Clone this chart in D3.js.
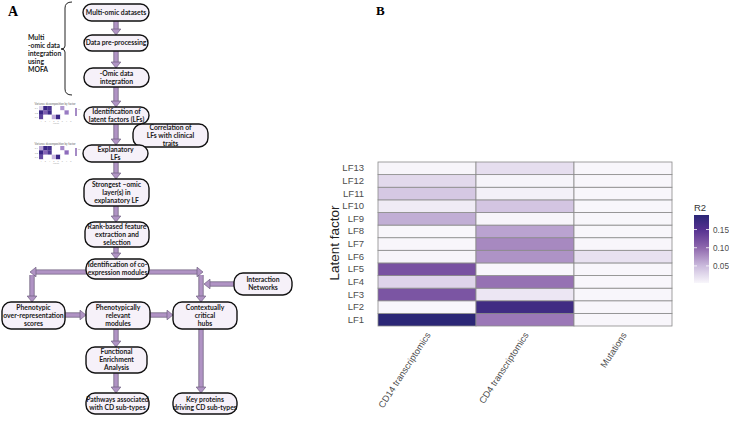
<!DOCTYPE html>
<html><head><meta charset="utf-8">
<script src="https://cdn.jsdelivr.net/npm/d3@7"></script>
<style>body{margin:0;background:#fff}svg{display:block}</style>
</head><body>
<svg id="c" width="729" height="421"></svg>
<script>
// ---------- Panel B data ----------
const views = ["CD14 transcriptomics", "CD4 transcriptomics", "Mutations"];
const factors = ["LF1","LF2","LF3","LF4","LF5","LF6","LF7","LF8","LF9","LF10","LF11","LF12","LF13"];
const r2CD14 = [0.190, 0.003, 0.117, 0.030, 0.120, 0.004, 0.003, 0.003, 0.058, 0.012, 0.040, 0.026, 0.004];
const r2CD4  = [0.090, 0.170, 0.016, 0.094, 0.003, 0.074, 0.080, 0.064, 0.004, 0.042, 0.008, 0.005, 0.022];
const r2Mut  = [0.003, 0.003, 0.003, 0.003, 0.003, 0.020, 0.003, 0.003, 0.003, 0.003, 0.003, 0.003, 0.003];
const legendTicks = [0.05, 0.10, 0.15];

// ---------- Panel A content ----------
const boxLabels = [
  ["Multi-omic datasets"],
  ["Data pre-processing"],
  ["-Omic data","integration"],
  ["Identification of","latent factors (LFs)"],
  ["Correlation of","LFs with clinical","traits"],
  ["Explanatory","LFs"],
  ["Strongest \u2013omic","layer(s) in","explanatory LF"],
  ["Rank-based feature","extraction and","selection"],
  ["Identification of co-","expression modules"],
  ["Interaction","Networks"],
  ["Phenotypic","over-representation","scores"],
  ["Phenotypically","relevant","modules"],
  ["Contextually","critical","hubs"],
  ["Functional","Enrichment","Analysis"],
  ["Pathways associated","with CD sub-types"],
  ["Key proteins","driving CD sub-types"]
];
const braceText = ["Multi","-omic data","integration","using","MOFA"];
// mini variance-decomposition thumbnails (3 views x 8 factors)
const thumb1 = [[0.15,1.0,0.9,0.0,0.0,0.35,0.0,0.0],[1.0,0.6,1.0,0.0,0.0,0.0,0.45,0.0],[0.8,0.0,0.0,0.3,1.0,0.0,0.0,0.0]];
const thumb2 = [[0.3,1.0,0.95,0.0,0.0,0.4,0.0,0.0],[1.0,0.55,0.9,0.0,0.0,0.0,0.5,0.0],[0.75,0.0,0.0,0.25,1.0,0.0,0.0,0.0]];

// ---------- layout (not data) ----------
const boxLayout = [
  [83,4,66,17],[84,35,64,16],[84,68,65,19],[84,107,65,17],[133,124,75,23],
  [83,145,65,17],[84,179,65,27],[85,222,64,25],[86,259,63,20],[234,273,58,22],
  [2,302,63,27],[86,302,64,27],[173,302,64,27],[86,347,61,26],[86,393,63,21],[173,393,64,21]
];
const arrowLayout = [
  [[116,21],[116,35]],[[116,51],[116,68]],[[116,87],[116,107]],[[116,124],[116,145]],
  [[116,162],[116,179]],[[116,206],[116,222]],[[116,247],[116,259]],
  [[86,272],[30,272]],[[32,275],[32,302]],
  [[149,272],[203,272]],[[201,275],[201,302]],
  [[234,284],[204,284]],
  [[65,315],[86,315]],[[150,315],[173,315]],
  [[116,329],[116,347]],[[116,373],[116,393]],[[201,329],[201,393]]
];

const svg = d3.select("#c");
svg.append("rect").attr("width",729).attr("height",421).attr("fill","#fff");

// ---------- Panel A ----------
const A = svg.append("g");
A.append("text").attr("x",8).attr("y",16).text("A")
  .attr("font-family","Liberation Serif, serif").attr("font-weight","bold").attr("font-size",14);

// brace
A.append("path")
  .attr("d","M72,2 Q65,2 65,8 L65,46 Q65,49 61,49 Q65,49 65,52 L65,89 Q65,95 72,95")
  .attr("fill","none").attr("stroke","#222").attr("stroke-width",1);
A.selectAll("text.brace").data(braceText).join("text").attr("class","brace")
  .attr("x",28).attr("y",(d,i)=>40+i*8.1).text(d=>d)
  .attr("font-family","Lato, sans-serif").attr("font-weight","bold").attr("font-size",6.8).attr("fill","#222");

// arrows
const shaftCol = "#b093c4", edgeCol = "#6f5f7f";
function drawArrow(pts){
  const [x1,y1] = pts[0], [x2,y2] = pts[1];
  const dx = x2-x1, dy = y2-y1, L = Math.hypot(dx,dy), ux = dx/L, uy = dy/L;
  const hl = 6, hw = 4.8;
  const bx = x2-ux*hl, by = y2-uy*hl;
  A.append("line").attr("x1",x1).attr("y1",y1).attr("x2",bx).attr("y2",by)
    .attr("stroke",edgeCol).attr("stroke-width",5.2);
  A.append("line").attr("x1",x1).attr("y1",y1).attr("x2",bx+ux*0.5).attr("y2",by+uy*0.5)
    .attr("stroke",shaftCol).attr("stroke-width",3.6);
  const px = -uy, py = ux;
  A.append("path").attr("d",`M${x2},${y2}L${bx+px*hw},${by+py*hw}L${bx-px*hw},${by-py*hw}Z`)
    .attr("fill",shaftCol).attr("stroke",edgeCol).attr("stroke-width",0.7);
}
arrowLayout.forEach(drawArrow);

// boxes
boxLabels.forEach((lines,i)=>{
  const [x,y,w,h] = boxLayout[i];
  const g = A.append("g");
  g.append("rect").attr("x",x).attr("y",y).attr("width",w).attr("height",h)
    .attr("rx",Math.min(9,h/2)).attr("ry",Math.min(9,h/2))
    .attr("fill","#f6f1f9").attr("stroke","#111").attr("stroke-width",1.4);
  const lh = 8, cy = y+h/2, n = lines.length;
  lines.forEach((t,j)=>{
    g.append("text").attr("x",x+w/2).attr("y",cy+(j-(n-1)/2)*lh+2.4)
      .attr("text-anchor","middle").text(t)
      .attr("font-family","Lato, sans-serif").attr("font-weight","bold").attr("font-size",6.8).attr("fill","#1a1a1a");
  });
});

// thumbnails
const thumbCol = d3.scaleLinear().domain([0,0.5,1]).range(["#ffffff","#8e6cbc","#3a2786"]);
function drawThumb(data, x0, y0){
  const g = A.append("g");
  g.append("text").attr("x",x0+22).attr("y",y0+1.5).attr("text-anchor","middle")
    .text("Variance decomposition by factor").attr("font-size",2.8).attr("fill","#666")
    .attr("font-family","Lato, sans-serif");
  const xs = d3.scaleBand().domain(d3.range(8)).range([x0+6,x0+40]);
  const ys = d3.scaleBand().domain(d3.range(3)).range([y0+3,y0+16]);
  data.forEach((row,r)=>row.forEach((v,c)=>{
    g.append("rect").attr("x",xs(c)).attr("y",ys(r)).attr("width",xs.bandwidth()+0.2).attr("height",ys.bandwidth()+0.2)
      .attr("fill",thumbCol(v));
  }));
  ["V1","V2","V3"].forEach((t,r)=>g.append("text").attr("x",x0+5).attr("y",ys(r)+ys.bandwidth()/2+1)
    .attr("text-anchor","end").attr("font-size",2.8).attr("fill","#666").text(t));
  d3.range(8).forEach(c=>g.append("text").attr("x",xs(c)+xs.bandwidth()/2).attr("y",y0+18.5)
    .attr("text-anchor","middle").attr("font-size",2.2).attr("fill","#888").text(c+1));
  g.append("text").attr("x",x0+23).attr("y",y0+21).attr("text-anchor","middle").attr("font-size",2.4).attr("fill","#888").text("Factor");
  g.append("rect").attr("x",x0+42).attr("y",y0+5).attr("width",2).attr("height",8).attr("fill","#a58bc6");
  g.append("text").attr("x",x0+45).attr("y",y0+7).attr("font-size",2).attr("fill","#888").text("R2");
}
drawThumb(thumb1, 33, 103);
drawThumb(thumb2, 33, 143);

// ---------- Panel B ----------
const B = svg.append("g");
B.append("text").attr("x",376).attr("y",15).text("B")
  .attr("font-family","Liberation Serif, serif").attr("font-weight","bold").attr("font-size",13);

const x = d3.scaleBand().domain(views).range([378,672]);
const y = d3.scaleBand().domain(factors).range([326,162]);
const series = [r2CD14, r2CD4, r2Mut];
const cells = [];
views.forEach((v,vi)=>factors.forEach((f,fi)=>cells.push({view:v,factor:f,value:series[vi][fi]})));
const allVals = cells.map(d=>d.value);
const vmin = d3.min(allVals), vmax = d3.max(allVals);
const color = d3.scaleLinear()
  .domain([0, 0.05, 0.10, 0.15, 0.19])
  .range(["#fbfafd","#cbbbdd","#8f67ad","#553190","#2b2676"]).clamp(true);

B.selectAll("rect.cell").data(cells).join("rect").attr("class","cell")
  .attr("x",d=>x(d.view)).attr("y",d=>y(d.factor))
  .attr("width",x.bandwidth()).attr("height",y.bandwidth())
  .attr("fill",d=>color(d.value)).attr("stroke","#8a8a8a").attr("stroke-width",0.8);

// axes
const yAx = B.append("g").attr("transform","translate(378,0)")
  .call(d3.axisLeft(y).tickSize(0).tickPadding(14));
yAx.select(".domain").remove();
yAx.selectAll("text").attr("font-family","Liberation Sans, Arial, sans-serif").attr("font-size",9.5).attr("fill","#4d4d4d");

const xAx = B.append("g").attr("transform","translate(0,326)")
  .call(d3.axisBottom(x).tickSize(0).tickPadding(0));
xAx.select(".domain").remove();
xAx.selectAll("text").attr("font-family","Liberation Sans, Arial, sans-serif").attr("font-size",9.2).attr("fill","#4d4d4d")
  .attr("text-anchor","end").attr("dy",0)
  .attr("transform","translate(4,9) rotate(-57)");

B.append("text").attr("transform","translate(339,243) rotate(-90)").attr("text-anchor","middle")
  .text("Latent factor").attr("font-family","Liberation Sans, Arial, sans-serif").attr("font-size",13.5).attr("fill","#222");

// legend
const lg = B.append("g");
const grad = svg.append("defs").append("linearGradient").attr("id","lgGrad")
  .attr("x1","0").attr("y1","1").attr("x2","0").attr("y2","0");
d3.range(0,1.0001,0.05).forEach(t=>{
  grad.append("stop").attr("offset",t).attr("stop-color",color(vmin+t*(vmax-vmin)));
});
const ly = d3.scaleLinear().domain([vmin,vmax]).range([283,215]);
lg.append("text").attr("x",694).attr("y",211).text("R2")
  .attr("font-family","Liberation Sans, Arial, sans-serif").attr("font-size",9.5).attr("fill","#333");
lg.append("rect").attr("x",694).attr("y",215).attr("width",15).attr("height",68).attr("fill","url(#lgGrad)");
const lAx = lg.append("g").attr("transform","translate(709,0)")
  .call(d3.axisRight(ly).tickValues(legendTicks).tickFormat(d3.format(".2f")).tickSize(0).tickPadding(4));
lAx.select(".domain").remove();
lAx.selectAll("text").attr("font-family","Liberation Sans, Arial, sans-serif").attr("font-size",8.2).attr("fill","#4d4d4d");
legendTicks.forEach(t=>{
  lg.append("line").attr("x1",694).attr("x2",697).attr("y1",ly(t)).attr("y2",ly(t)).attr("stroke","#fff").attr("stroke-width",0.8);
  lg.append("line").attr("x1",706).attr("x2",709).attr("y1",ly(t)).attr("y2",ly(t)).attr("stroke","#fff").attr("stroke-width",0.8);
});
</script>
</body></html>
